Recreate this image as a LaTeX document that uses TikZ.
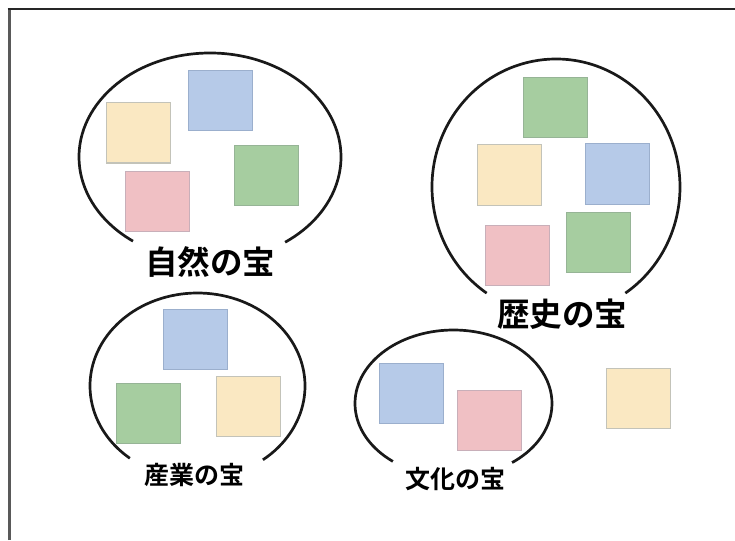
\documentclass[tikz,border=0pt]{standalone}
\usepackage{fontspec}
\usetikzlibrary{calc}
\newfontfamily\jp{Noto Sans CJK JP}[BoldFont={Noto Sans CJK JP Bold}]
\definecolor{yel}{RGB}{250,232,194}
\definecolor{yelb}{RGB}{195,195,185}
\definecolor{blu}{RGB}{182,202,232}
\definecolor{blub}{RGB}{155,175,205}
\definecolor{grn}{RGB}{166,205,160}
\definecolor{grnb}{RGB}{150,180,150}
\definecolor{pnk}{RGB}{240,192,196}
\definecolor{pnkb}{RGB}{200,175,185}
\tikzset{
  sq/.style={draw, line width=1pt, minimum width=64pt, minimum height=60pt, inner sep=0pt},
  ysq/.style={sq, fill=yel, draw=yelb},
  bsq/.style={sq, fill=blu, draw=blub},
  gsq/.style={sq, fill=grn, draw=grnb},
  psq/.style={sq, fill=pnk, draw=pnkb},
  ring/.style={line width=2.7pt, black!90},
  biglabel/.style={font=\jp\bfseries\fontsize{32.5}{32.5}\selectfont, inner sep=0pt},
  smalllabel/.style={font=\jp\bfseries\fontsize{25}{25}\selectfont, inner sep=0pt},
}
\begin{document}
\begin{tikzpicture}[x=1pt,y=-1pt]
\useasboundingbox (0,0) rectangle (735,540);
% frame
\draw[line width=3pt, black!65] (9,540) -- (9,9);
\draw[line width=2pt, black!85] (7.5,9.5) -- (735,9.5);
% group 1
\coordinate (c1) at (210,157);
\draw[ring] ($(c1)+(126:131 and 104)$) arc[start angle=126, end angle=415, x radius=131, y radius=104];
\node[ysq] (a1) at (138,133) {};
\node[bsq] (a2) at (220.5,100.5) {};
\node[gsq] (a3) at (266.5,175.5) {};
\node[psq] (a4) at (157.5,201.5) {};
\node[biglabel] (l1) at (210,262) {自然の宝};
% group 2
\coordinate (c2) at (556,187);
\draw[ring] ($(c2)+(124:124 and 128)$) arc[start angle=124, end angle=416, x radius=124, y radius=128];
\node[gsq] (b1) at (555,107.5) {};
\node[ysq] (b2) at (509.5,175) {};
\node[bsq] (b3) at (617.5,174) {};
\node[psq] (b4) at (517,255.5) {};
\node[gsq] (b5) at (598,242.5) {};
\node[biglabel] (l2) at (562,314) {歴史の宝};
% group 3
\coordinate (c3) at (197.5,386);
\draw[ring] ($(c3)+(129:107.5 and 93)$) arc[start angle=129, end angle=412.5, x radius=107.5, y radius=93];
\node[bsq] (d1) at (195.5,339) {};
\node[gsq] (d2) at (148,413.5) {};
\node[ysq] (d3) at (248,406.5) {};
\node[smalllabel] (l3) at (194,475) {産業の宝};
% group 4
\coordinate (c4) at (453.5,403.5);
\draw[ring] ($(c4)+(128:98.5 and 73.5)$) arc[start angle=128, end angle=413.5, x radius=98.5, y radius=73.5];
\node[bsq] (e1) at (411,393) {};
\node[psq] (e2) at (489,420.5) {};
\node[smalllabel] (l4) at (455,479) {文化の宝};
% loose square
\node[ysq] (f1) at (638.5,398) {};
\end{tikzpicture}
\end{document}
